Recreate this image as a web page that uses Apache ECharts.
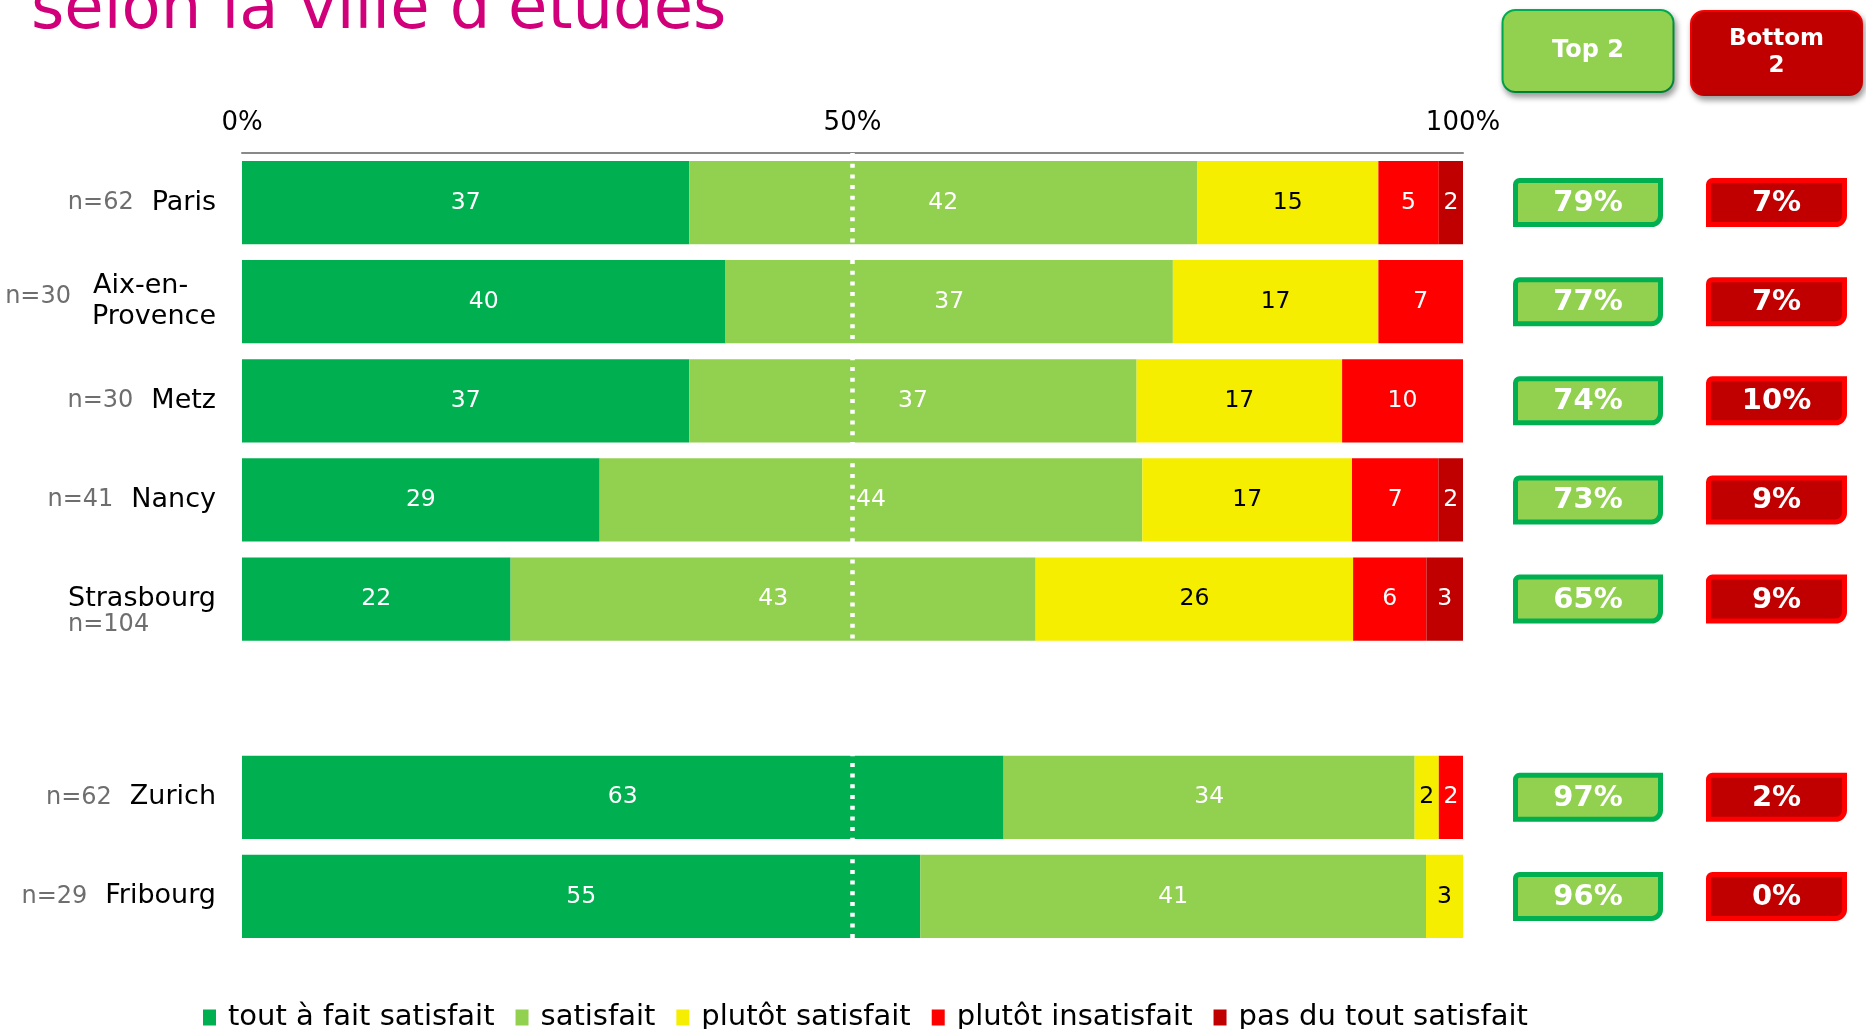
<!DOCTYPE html>
<html><head><meta charset="utf-8">
<script src="https://cdn.jsdelivr.net/npm/echarts@6/dist/echarts.min.js"></script>
<style>html,body{margin:0;padding:0;background:#fff}#c{width:1866px;height:1029px}</style>
</head><body><div id="c"></div>
<script>
const cities = ['Paris', 'Aix-en-Provence', 'Metz', 'Nancy', 'Strasbourg', '', 'Zurich', 'Fribourg'];
const sampleSizes = [62, 30, 30, 41, 104, null, 62, 29];
const seriesNames = ['tout à fait satisfait', 'satisfait', 'plutôt satisfait', 'plutôt insatisfait', 'pas du tout satisfait'];
const toutAFaitSatisfait = [37, 40, 37, 29, 22, null, 63, 55];
const satisfait = [42, 37, 37, 44, 43, null, 34, 41];
const plutotSatisfait = [15, 17, 17, 17, 26, null, 2, 3];
const plutotInsatisfait = [5, 7, 10, 7, 6, null, 2, 0];
const pasDuToutSatisfait = [2, 0, 0, 2, 3, null, 0, 0];
const top2 = [79, 77, 74, 73, 65, null, 97, 96];
const bottom2 = [7, 7, 10, 9, 9, null, 2, 0];
const top2Header = ['Top 2'];
const bottom2Header = ['Bottom\n2'];
const titleText = "selon la ville d'études";

const F = '"DejaVu Sans", Verdana, sans-serif';
const raw = [toutAFaitSatisfait, satisfait, plutotSatisfait, plutotInsatisfait, pasDuToutSatisfait];
const colors = ['#00B050', '#92D050', '#F5EE00', '#FF0000', '#C00000'];
const labelColors = ['#fff', '#fff', '#000', '#fff', '#fff'];
const totals = cities.map((_, i) => raw.reduce((s, arr) => s + (arr[i] || 0), 0));

const barSeries = raw.map((arr, k) => ({
  name: seriesNames[k], type: 'bar', stack: 'total', xAxisIndex: 0, yAxisIndex: 0,
  barWidth: '84%',
  data: arr.map((v, i) => v == null ? null : (totals[i] ? v / totals[i] * 100 : 0)),
  itemStyle: { color: colors[k] },
  label: {
    show: true, position: 'inside', color: labelColors[k], fontSize: 23.5, fontFamily: F,
    formatter: p => raw[k][p.dataIndex] ? String(raw[k][p.dataIndex]) : ''
  },
  emphasis: { disabled: true },
  markLine: k === 0 ? {
    silent: true, symbol: 'none', label: { show: false },
    lineStyle: { color: '#fff', width: 4.5, type: [4, 6.7], cap: 'butt' },
    data: [{ xAxis: 50 }]
  } : undefined
}));

function boxSeries(idx, values, fill, stroke) {
  return {
    type: 'custom', xAxisIndex: idx, yAxisIndex: idx, silent: true,
    data: values.map((v, i) => v == null ? null : [0, i, v]).filter(d => d),
    renderItem: (params, api) => {
      const c = api.coord([0, api.value(1)]);
      const w = api.size([1, 0])[0];
      const h = 44, bw = 5;
      return {
        type: 'rect',
        shape: { x: c[0] - w / 2 + bw / 2, y: c[1] - h / 2, width: w - bw, height: h, r: [4, 0, 9, 0] },
        style: { fill: fill, stroke: stroke, lineWidth: bw },
        textContent: { style: { text: api.value(2) + '%', fill: '#fff', font: 'bold 29px ' + F } },
        textConfig: { position: 'inside', offset: [0, 1] }
      };
    }
  };
}

function yLabel(name, i) {
  if (!name) return '';
  const n = 'n=' + sampleSizes[i];
  if (name.indexOf('-') >= 0) {
    const cut = name.lastIndexOf('-') + 1;
    return '{nw|' + n + '}{cw|' + name.slice(0, cut) + '}\n{cw2|' + name.slice(cut) + '}';
  }
  if (name.length >= 10) return '{sb|' + name + '}\n{nb|' + n + '}';
  return '{n|' + n + '}{c|' + name + '}';
}

function headerLabel(fill, stroke, pad, lh, fs) {
  return {
    margin: 62, color: '#fff', fontWeight: 'bold', fontSize: fs, fontFamily: F, lineHeight: lh,
    backgroundColor: fill, borderColor: stroke, borderWidth: 2, borderRadius: 12,
    width: 169, padding: pad, align: 'center',
    shadowColor: 'rgba(0,0,0,0.35)', shadowBlur: 6, shadowOffsetX: 2, shadowOffsetY: 4
  };
}

const chart = echarts.init(document.getElementById('c'), null, { renderer: 'canvas' });
chart.setOption({
  animation: false,
  backgroundColor: '#fff',
  textStyle: { fontFamily: F },
  title: {
    text: titleText, left: 26, top: -26, padding: 5,
    textStyle: { fontSize: 64, fontWeight: 'normal', color: '#D1007A', fontFamily: F }
  },
  legend: {
    data: seriesNames, left: 203, top: 1003, padding: 0, icon: 'rect', itemWidth: 13, itemHeight: 16, itemGap: 21,
    selectedMode: false,
    textStyle: { fontSize: 29, color: '#000', fontFamily: F, padding: [0, 0, 0, 7] }
  },
  grid: [
    { left: 242, width: 1221, top: 153, height: 793 },
    { left: 1513, width: 150, top: 153, height: 793 },
    { left: 1706, width: 150, top: 153, height: 793 }
  ],
  xAxis: [
    {
      gridIndex: 0, type: 'value', min: 0, max: 100, interval: 50, position: 'top',
      axisLine: { show: true, lineStyle: { color: '#898989', width: 2 } },
      axisTick: { show: false }, splitLine: { show: false },
      axisLabel: { formatter: '{value}%', fontSize: 26, color: '#000', margin: 17, fontFamily: F }
    },
    {
      gridIndex: 1, type: 'category', data: top2Header, position: 'top',
      axisLine: { show: false }, axisTick: { show: false },
      axisLabel: headerLabel('#92D050', '#00B050', [27, 0, 27, 0], 26, 24)
    },
    {
      gridIndex: 2, type: 'category', data: bottom2Header, position: 'top',
      axisLine: { show: false }, axisTick: { show: false },
      axisLabel: Object.assign(headerLabel('#C00000', '#FF0000', [14, 0, 14, 0], 27, 23), { margin: 59 })
    }
  ],
  yAxis: [
    {
      gridIndex: 0, type: 'category', data: cities, inverse: true,
      axisLine: { show: false }, axisTick: { show: false },
      axisLabel: {
        margin: 26, formatter: yLabel, interval: 0,
        rich: {
          n: { fontSize: 24, color: '#6e6e6e', fontFamily: F },
          c: { fontSize: 27, color: '#000', fontFamily: F, padding: [0, 0, 0, 18] },
          nw: { fontSize: 24, color: '#6e6e6e', fontFamily: F, lineHeight: 31, padding: [22, 0, 0, 0], align: 'left' },
          cw: { fontSize: 27, color: '#000', fontFamily: F, lineHeight: 31, width: 123, align: 'left', padding: [0, 0, 0, 22] },
          cw2: { fontSize: 27, color: '#000', fontFamily: F, lineHeight: 31, align: 'right' },
          sb: { fontSize: 27, color: '#000', fontFamily: F, lineHeight: 25, padding: [25, 0, 0, 0], align: 'right' },
          nb: { fontSize: 24, color: '#6e6e6e', fontFamily: F, lineHeight: 25, padding: [27, 0, 0, 0], align: 'left' }
        }
      }
    },
    { gridIndex: 1, type: 'category', data: cities, inverse: true, show: false },
    { gridIndex: 2, type: 'category', data: cities, inverse: true, show: false }
  ],
  series: barSeries.concat([
    boxSeries(1, top2, '#92D050', '#00B050'),
    boxSeries(2, bottom2, '#C00000', '#FF0000')
  ])
});
</script>
</body></html>
